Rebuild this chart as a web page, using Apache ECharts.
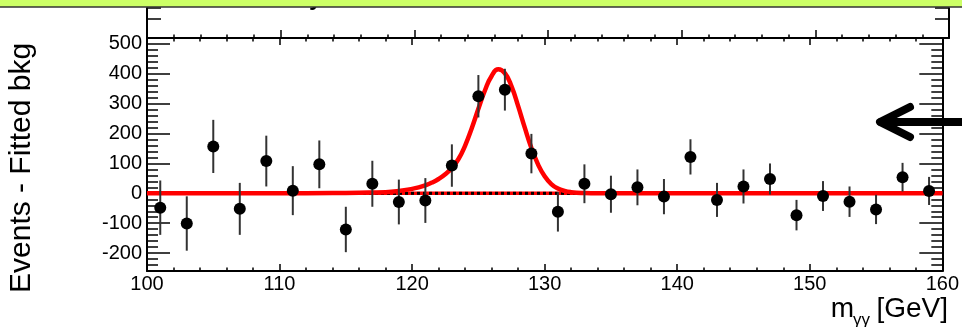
<!DOCTYPE html>
<html><head><meta charset="utf-8">
<script src="https://cdn.jsdelivr.net/npm/echarts@6/dist/echarts.min.js"></script>
<style>html,body{margin:0;padding:0;background:#fff}#c{width:962px;height:327px}</style>
</head><body><div id="c"></div>
<script>
// ---- data ----
const massCenters = [101,103,105,107,109,111,113,115,117,119,121,123,125,127,129,131,133,135,137,139,141,143,145,147,149,151,153,155,157,159];
const excess = [-48,-101,157,-52,108,9,97,-121,32,-29,-24,93,325,347,133,-62,32,-3,20,-11,122,-22,23,48,-73,-9,-28,-54,54,8];
const errors = [91,91,89,87,85,82,80,76,77,75,75,71,71,70,66,66,65,62,60,59,59,57,57,52,51,50,51,49,48,47];
const sigX = [100,110,114,116,118,119,120,120.5,121,121.5,122,122.5,123,123.5,124,124.5,125,125.5,126,126.5,127,127.5,128,128.5,129,129.5,130,130.5,131,131.5,132,133,134,136,160];
const sigY = [0,0,1,2,4,8,15,20,27,36,48,64,85,115,160,218,283,345,393,415,402,358,292,220,152,97,57,31,16,8,4,1,0,0,0];
const bkgX = [100,160];
const bkgY = [0,0];
const xTickMin = 100, xTickMax = 160, xTickStep = 10;
const yMin = -260, yMax = 520, yMajor = 100, yMinor = 20;

const FONT = '"Liberation Sans", Arial, Helvetica, sans-serif';
const chart = echarts.init(document.getElementById('c'), null, {renderer:'canvas'});

function xAx(grid, pos, showLabel, tickLen) {
  return {
    type:'value', gridIndex:grid, position:pos, min:xTickMin, max:xTickMax, interval:xTickStep,
    axisLine:{show:true, onZero:false, lineStyle:{color:'#000', width:2}},
    axisTick:{show:true, inside:true, length:tickLen, lineStyle:{color:'#000', width:1.5}},
    minorTick:{show:true, splitNumber:5, length:3.5, lineStyle:{color:'#000', width:1.5}},
    axisLabel:{show:showLabel, color:'#000', fontSize:20, fontFamily:FONT, margin:3},
    splitLine:{show:false}, minorSplitLine:{show:false}
  };
}
function yMain(pos, showLabel) {
  return {
    type:'value', gridIndex:1, position:pos, min:yMin, max:yMax, splitNumber:8,
    minInterval:yMajor, maxInterval:yMajor,
    axisLine:{show:true, onZero:false, lineStyle:{color:'#000', width:2}},
    axisTick:{show:true, inside:true, length:23, lineStyle:{color:'#000', width:1.5}},
    minorTick:{show:false},
    axisLabel:{show:showLabel, color:'#000', fontSize:20, fontFamily:FONT, margin:5,
      formatter: v => (Math.round(v) % yMajor === 0 ? String(Math.round(v)) : '')},
    splitLine:{show:false}
  };
}
function yMinorAx(pos) {
  return {
    type:'value', gridIndex:1, position:pos, min:yMin, max:yMax, interval:yMinor,
    axisLine:{show:false, onZero:false},
    axisTick:{show:true, inside:true, length:11, lineStyle:{color:'#000', width:1.5}},
    axisLabel:{show:false}, splitLine:{show:false}
  };
}
function yUpper(pos) {
  return {
    type:'value', gridIndex:0, position:pos, min:0, max:30, interval:19,
    axisLine:{show:true, onZero:false, lineStyle:{color:'#000', width:2}},
    axisTick:{show:true, inside:true, length:14, lineStyle:{color:'#000', width:1.5}},
    axisLabel:{show:false}, splitLine:{show:false}
  };
}

const pts = massCenters.map((x,i)=>[x, excess[i]]);
const bars = massCenters.map((x,i)=>[x, excess[i]-errors[i], excess[i]+errors[i]]);
const sig = sigX.map((x,i)=>[x, sigY[i]]);
const bkg = bkgX.map((x,i)=>[x, bkgY[i]]);

chart.setOption({
  animation:false,
  backgroundColor:'#fff',
  grid:[
    {left:147, right:13, top:8, height:30, containLabel:false},
    {left:147, right:13, top:38, height:233, containLabel:false}
  ],
  xAxis:[ xAx(0,'bottom',false,8), xAx(1,'bottom',true,7), xAx(1,'top',false,7) ],
  yAxis:[ yUpper('left'), yUpper('right'), yMain('left',true), yMinorAx('left'), yMain('right',false), yMinorAx('right') ],
  series:[
    {type:'line', xAxisIndex:1, yAxisIndex:2, data:bkg, symbol:'none', z:2,
      lineStyle:{color:'#ff0000', width:3.5}},
    {type:'line', xAxisIndex:1, yAxisIndex:2, data:bkg, symbol:'none', z:3,
      lineStyle:{color:'#000', width:3, type:[3,3]}},
    {type:'line', xAxisIndex:1, yAxisIndex:2, data:sig, symbol:'none', z:4,
      smooth:0.5, lineStyle:{color:'#ff0000', width:4.5, join:'round'}},
    {type:'custom', xAxisIndex:1, yAxisIndex:2, data:bars, z:5, encode:{x:0, y:[1,2]},
      renderItem:function(params, api){
        const x = api.value(0);
        const p1 = api.coord([x, api.value(1)]);
        const p2 = api.coord([x, api.value(2)]);
        return {type:'line', shape:{x1:p1[0], y1:p1[1], x2:p2[0], y2:p2[1]},
          style:{stroke:'#333', lineWidth:2}};
      }},
    {type:'scatter', xAxisIndex:1, yAxisIndex:2, data:pts, z:6, symbol:'circle', symbolSize:12,
      itemStyle:{color:'#000', opacity:1}}
  ],
  graphic:[
    {type:'text', z:50, x:309, y:10.7, style:{text:'y', font:'bold 24px '+FONT, fill:'#000', textAlign:'left', textVerticalAlign:'bottom'}},
    {type:'rect', z:100, shape:{x:0, y:0, width:962, height:7}, style:{fill:'#ccff66'}},
    {type:'rect', z:101, shape:{x:0, y:6.3, width:962, height:1.5}, style:{fill:'#333'}},
    {type:'text', z:110, x:37, y:293, rotation:Math.PI/2,
      style:{text:'Events - Fitted bkg', font:'30px '+FONT, fill:'#000', textAlign:'left', textVerticalAlign:'bottom'}},
    {type:'text', z:110, x:948, y:323.3,
      style:{text:'[GeV]', font:'28px '+FONT, fill:'#000', textAlign:'right', textVerticalAlign:'bottom'}},
    {type:'text', z:110, x:870, y:329,
      style:{text:'γγ', font:'17px '+FONT, fill:'#000', textAlign:'right', textVerticalAlign:'bottom'}},
    {type:'text', z:110, x:854, y:323.3,
      style:{text:'m', font:'28px '+FONT, fill:'#000', textAlign:'right', textVerticalAlign:'bottom'}},
    {type:'polyline', z:110, shape:{points:[[910,107],[880,122],[910,137]]},
      style:{stroke:'#000', lineWidth:8, lineCap:'round', lineJoin:'round', fill:null}},
    {type:'line', z:110, shape:{x1:881, y1:122, x2:965, y2:122},
      style:{stroke:'#000', lineWidth:8, lineCap:'round'}}
  ]
});
</script></body></html>
